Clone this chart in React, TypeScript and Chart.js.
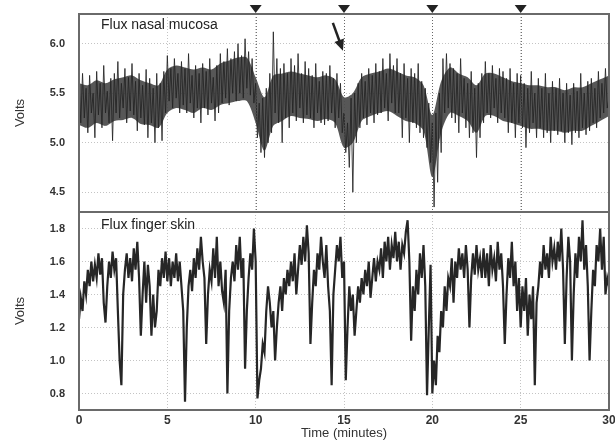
import { useEffect, useRef } from 'react';
import { Chart, registerables } from 'chart.js';

Chart.register(...registerables);

// sampling interval of the hand-read traces (minutes per sample)
const TIME_STEP_MIN = 0.1;
// sampling interval of the dense core band of the nasal trace
const CORE_STEP_MIN = 0.5;

// Flux nasal mucosa (Volts), one row per minute
const nasalFlux = [
  5.62, 5.2, 5.7, 5.25, 5.55, 5.1, 5.68, 5.3, 5.5, 5.05,
  5.72, 5.28, 5.6, 5.15, 5.78, 5.3, 5.52, 5.2, 5.65, 5.02,
  5.7, 5.3, 5.82, 5.25, 5.6, 5.35, 5.75, 5.2, 5.66, 5.32,
  5.8, 5.28, 5.62, 5.12, 5.7, 5.25, 5.58, 5.18, 5.74, 5.05,
  5.65, 5.2, 5.55, 5.0, 5.7, 5.15, 5.6, 5.02, 5.72, 5.3,
  5.88, 5.42, 5.75, 5.35, 5.85, 5.45, 5.7, 5.3, 5.82, 5.38,
  5.75, 5.3, 5.9, 5.4, 5.68, 5.25, 5.78, 5.35, 5.7, 5.2,
  5.8, 5.35, 5.72, 5.28, 5.85, 5.4, 5.66, 5.22, 5.78, 5.3,
  5.9, 5.4, 5.82, 5.45, 5.95, 5.38, 5.85, 5.5, 5.92, 5.42,
  6.0, 5.5, 5.88, 5.45, 6.05, 5.55, 5.92, 5.48, 5.85, 5.4,
  5.6, 5.05, 5.4, 4.9, 5.45, 4.85, 5.55, 5.0, 5.7, 5.1,
  6.12, 5.3, 5.85, 5.2, 5.75, 5.0, 5.8, 5.25, 5.7, 5.15,
  5.85, 5.3, 5.78, 5.22, 5.9, 5.35, 5.7, 5.2, 5.82, 5.28,
  5.75, 5.25, 5.68, 5.15, 5.8, 5.3, 5.62, 5.2, 5.72, 5.18,
  5.7, 5.22, 5.78, 5.3, 5.65, 5.15, 5.7, 5.25, 5.6, 5.1,
  5.3, 4.9, 5.2, 4.75, 5.45, 4.5, 5.5, 5.0, 5.6, 5.15,
  5.7, 5.25, 5.62, 5.18, 5.75, 5.3, 5.68, 5.2, 5.8, 5.28,
  5.72, 5.3, 5.85, 5.35, 5.7, 5.22, 5.9, 5.4, 5.78, 5.3,
  5.85, 5.3, 5.7, 5.05, 5.8, 5.25, 5.65, 5.0, 5.75, 5.2,
  5.7, 5.15, 5.8, 5.1, 5.62, 5.05, 5.55, 4.95, 5.4, 4.8,
  5.2, 4.35, 5.3, 4.6, 5.5, 4.9, 5.85, 5.3, 5.9, 5.35,
  5.8, 5.25, 5.75, 5.2, 5.7, 5.1, 5.85, 5.3, 5.65, 5.15,
  5.6, 5.05, 5.72, 5.1, 5.55, 4.85, 5.6, 5.05, 5.7, 5.2,
  5.82, 5.3, 5.7, 5.25, 5.78, 5.35, 5.65, 5.2, 5.75, 5.3,
  5.72, 5.25, 5.65, 5.1, 5.75, 5.2, 5.6, 5.05, 5.7, 5.2,
  5.68, 5.15, 5.6, 4.95, 5.55, 5.1, 5.72, 5.2, 5.5, 5.05,
  5.65, 5.15, 5.55, 5.05, 5.7, 5.1, 5.5, 5.0, 5.62, 5.12,
  5.55, 5.08, 5.65, 5.12, 5.5, 5.0, 5.6, 5.1, 5.48, 4.98,
  5.6, 5.1, 5.52, 5.05, 5.7, 5.15, 5.5, 5.08, 5.62, 5.12,
  5.65, 5.2, 5.55, 5.15, 5.72, 5.25, 5.6, 5.3, 5.75, 5.35,
  5.45,
];

// dense dark core of the nasal trace, lower / upper edge (Volts), every 0.5 min
const nasalCoreLow = [
  5.18, 5.15, 5.2, 5.17, 5.22, 5.23, 5.25, 5.19, 5.18, 5.15,
  5.3, 5.35, 5.33, 5.3, 5.35, 5.33, 5.38, 5.4, 5.42, 5.42,
  5.2, 4.92, 5.17, 5.22, 5.27, 5.25, 5.24, 5.22, 5.24, 5.2,
  4.95, 5.0, 5.22, 5.27, 5.3, 5.32, 5.27, 5.22, 5.2, 5.12,
  4.65, 5.1, 5.3, 5.27, 5.22, 5.1, 5.27, 5.27, 5.22, 5.2,
  5.17, 5.14, 5.14, 5.12, 5.12, 5.1, 5.12, 5.12, 5.17, 5.22,
  5.27,
];
const nasalCoreHigh = [
  5.6, 5.58, 5.63, 5.6, 5.64, 5.66, 5.68, 5.63, 5.6, 5.58,
  5.74, 5.78, 5.76, 5.74, 5.76, 5.74, 5.8, 5.83, 5.86, 5.86,
  5.66, 5.46, 5.68, 5.7, 5.72, 5.7, 5.68, 5.66, 5.68, 5.64,
  5.46, 5.5, 5.66, 5.7, 5.72, 5.75, 5.72, 5.68, 5.66, 5.58,
  5.28, 5.62, 5.76, 5.7, 5.66, 5.58, 5.7, 5.7, 5.66, 5.62,
  5.6, 5.58, 5.58, 5.56, 5.56, 5.53, 5.56, 5.56, 5.6, 5.64,
  5.68,
];

// Flux finger skin (Volts), one row per minute
const fingerFlux = [
  1.25, 1.38, 1.3, 1.48, 1.4, 1.55, 1.45, 1.6, 1.48, 1.58,
  1.5, 1.65, 1.52, 1.62, 1.35, 1.23, 1.45, 1.6, 1.5, 1.66,
  1.55, 1.62, 1.3, 1.0, 0.85, 1.4, 1.55, 1.65, 1.5, 1.62,
  1.48, 1.68, 1.55, 1.72, 1.5, 1.15, 1.4, 1.6, 1.35, 1.58,
  1.45, 1.15, 1.4, 1.2, 1.3, 1.55, 1.45, 1.62, 1.5, 1.66,
  1.48, 1.62, 1.45, 1.6, 1.5, 1.65, 1.48, 1.6, 1.45, 1.3,
  0.75, 1.2, 1.45, 1.55, 1.42, 1.62, 1.5, 1.68, 1.55, 1.75,
  1.6, 1.5, 1.1, 1.4, 1.55, 1.48, 1.68, 1.5, 1.75, 1.45,
  1.6, 1.42, 1.35, 1.55, 0.8, 1.3, 1.5, 1.6, 1.48, 1.7,
  1.55, 1.75, 1.5, 1.62, 0.95, 1.3, 1.5, 1.65, 1.55, 1.8,
  1.6, 0.77, 0.88, 0.95, 1.1, 1.05, 1.3, 1.45, 1.35, 1.2,
  1.3, 1.0, 1.2, 1.35, 1.45, 1.3, 1.5, 1.4, 1.55, 1.45,
  1.6, 1.48, 1.65, 1.4, 1.55, 1.7, 1.58, 1.75, 1.6, 1.82,
  1.65, 1.1, 1.35, 1.55, 1.45, 1.65, 1.55, 1.75, 1.6, 1.5,
  1.7, 1.45, 1.3, 0.85, 1.4, 1.55, 1.7, 1.6, 1.75, 1.5,
  1.6, 0.88, 1.2, 1.45, 1.3, 1.4, 1.15, 1.3, 1.45, 1.35,
  1.5, 1.4, 1.55, 1.45, 1.6, 1.38, 1.5, 1.62, 1.48, 1.6,
  1.55, 1.68, 1.5, 1.72, 1.6, 1.75, 1.55, 1.7, 1.62, 1.78,
  1.6, 1.72, 1.55, 1.7, 1.65, 1.78, 1.85, 1.6, 1.12, 1.45,
  1.3, 1.55, 1.4, 1.65, 1.5, 1.7, 1.45, 0.79, 1.2, 1.58,
  0.8, 1.0, 0.85, 1.15, 1.05, 1.3, 1.2, 1.45, 1.3, 1.5,
  1.45, 1.62, 1.35, 1.6, 1.5, 1.68, 1.55, 1.65, 1.5, 1.7,
  1.55, 1.2, 1.5, 1.65, 1.52, 1.7, 1.55, 1.62, 1.5, 1.68,
  1.5, 1.65, 1.45, 1.7, 1.55, 1.62, 1.48, 1.72, 1.55, 1.65,
  1.45, 1.1, 1.4, 1.62, 1.5, 1.72, 1.45, 1.6, 1.3, 1.5,
  1.2, 1.45, 1.3, 1.5, 1.15, 1.4, 1.25, 1.45, 0.85, 1.35,
  1.45, 1.6, 1.5, 1.7, 1.55, 1.65, 1.5, 1.75, 1.6, 1.68,
  1.55, 1.72, 1.6, 1.8, 1.55, 1.1, 1.5, 1.75, 1.6, 1.0,
  1.4, 1.65, 1.5, 1.75, 1.6, 1.85, 1.55, 1.7, 1.45, 1.0,
  1.3, 1.55, 1.45, 1.7, 1.6, 1.8, 1.55, 1.75, 1.4, 1.5,
  1.45,
];

const timeTicks = [0, 5, 10, 15, 20, 25, 30];
const nasalTicks = [4.5, 5.0, 5.5, 6.0];
const fingerTicks = [0.8, 1.0, 1.2, 1.4, 1.6, 1.8];
const nasalRange = [4.3, 6.3];
const fingerRange = [0.7, 1.9];
const markerTimes = [10, 15, 20, 25];
// arrow annotation (time, volts) tail -> head
const arrowTail = [14.37, 6.21];
const arrowHead = [14.94, 5.93];

const panelTitles = ['Flux nasal mucosa', 'Flux finger skin'];

const toPoints = (arr: number[], step: number) => arr.map((v, i) => ({ x: i * step, y: v }));

const overlay = {
  id: 'overlay',
  afterDatasetsDraw(chart: any) {
    const { ctx, chartArea, scales } = chart;
    const x = scales.x;
    const yT = scales.yNasal;
    const yB = scales.yFinger;
    ctx.save();
    // darker dotted event lines in upper panel
    ctx.strokeStyle = 'rgba(80,80,80,0.8)';
    ctx.lineWidth = 1;
    ctx.setLineDash([1, 2]);
    markerTimes.forEach((t) => {
      const px = Math.round(x.getPixelForValue(t)) + 0.5;
      ctx.beginPath();
      ctx.moveTo(px, yT.top);
      ctx.lineTo(px, yT.bottom);
      ctx.stroke();
    });
    ctx.setLineDash([]);
    // panel frames
    ctx.strokeStyle = '#6a6a6a';
    ctx.lineWidth = 2;
    const w = chartArea.right - chartArea.left;
    ctx.strokeRect(chartArea.left, yT.top, w, yT.bottom - yT.top);
    ctx.strokeRect(chartArea.left, yB.top, w, yB.bottom - yB.top);
    // event markers
    ctx.fillStyle = '#222';
    markerTimes.forEach((t) => {
      const px = x.getPixelForValue(t);
      ctx.beginPath();
      ctx.moveTo(px - 6, yT.top - 9);
      ctx.lineTo(px + 6, yT.top - 9);
      ctx.lineTo(px, yT.top - 1);
      ctx.closePath();
      ctx.fill();
    });
    // arrow
    const ax0 = x.getPixelForValue(arrowTail[0]);
    const ay0 = yT.getPixelForValue(arrowTail[1]);
    const ax1 = x.getPixelForValue(arrowHead[0]);
    const ay1 = yT.getPixelForValue(arrowHead[1]);
    const ang = Math.atan2(ay1 - ay0, ax1 - ax0);
    ctx.strokeStyle = '#222';
    ctx.lineWidth = 2.5;
    ctx.beginPath();
    ctx.moveTo(ax0, ay0);
    ctx.lineTo(ax1 - 6 * Math.cos(ang), ay1 - 6 * Math.sin(ang));
    ctx.stroke();
    ctx.beginPath();
    ctx.moveTo(ax1, ay1);
    ctx.lineTo(ax1 - 11 * Math.cos(ang) + 5 * Math.sin(ang), ay1 - 11 * Math.sin(ang) - 5 * Math.cos(ang));
    ctx.lineTo(ax1 - 11 * Math.cos(ang) - 5 * Math.sin(ang), ay1 - 11 * Math.sin(ang) + 5 * Math.cos(ang));
    ctx.closePath();
    ctx.fill();
    // panel titles
    ctx.fillStyle = '#222';
    ctx.font = '14px "Liberation Sans", Arial, sans-serif';
    ctx.textBaseline = 'alphabetic';
    ctx.textAlign = 'left';
    ctx.fillText(panelTitles[0], chartArea.left + 22, yT.top + 15);
    ctx.fillText(panelTitles[1], chartArea.left + 22, yB.top + 17);
    ctx.restore();
  },
};

const zeroPad = (s: any) => {
  s.paddingTop = 0;
  s.paddingBottom = 0;
  s.paddingLeft = 0;
  s.paddingRight = 0;
};

export default function App() {
  const ref = useRef<HTMLCanvasElement | null>(null);
  useEffect(() => {
    if (!ref.current) return;
    const tickFont = { family: '"Liberation Sans", Arial, sans-serif', size: 11, weight: 'bold' as const };
    const titleFont = { family: '"Liberation Sans", Arial, sans-serif', size: 13 };
    const gridCfg = { color: '#c4c4c4', drawTicks: false, lineWidth: 1 };
    const yCommon = (ticks: number[], range: number[]) => ({
      type: 'linear' as const,
      position: 'left' as const,
      stack: 'panels',
      stackWeight: 1,
      min: range[0],
      max: range[1],
      afterBuildTicks: (s: any) => {
        s.ticks = ticks.map((v) => ({ value: v }));
      },
      afterFit: (s: any) => {
        s.width = 79;
        zeroPad(s);
      },
      grid: gridCfg,
      border: { display: false, dash: [1, 2] },
      ticks: {
        color: '#333',
        font: tickFont,
        padding: 14,
        callback: (v: any) => Number(v).toFixed(1),
      },
      title: { display: true, text: 'Volts', color: '#333', font: titleFont, padding: { top: 13, bottom: 0 } },
    });
    const chart = new Chart(ref.current, {
      type: 'line',
      data: {
        datasets: [
          {
            label: panelTitles[0],
            data: toPoints(nasalFlux, TIME_STEP_MIN),
            yAxisID: 'yNasal',
            borderColor: 'rgba(35,35,35,0.85)',
            borderWidth: 1,
            pointRadius: 0,
            tension: 0,
            order: 0,
          },
          {
            label: 'core low',
            data: toPoints(nasalCoreLow, CORE_STEP_MIN),
            yAxisID: 'yNasal',
            borderWidth: 0,
            borderColor: 'rgba(0,0,0,0)',
            pointRadius: 0,
            tension: 0.3,
            fill: false,
            order: 2,
          },
          {
            label: 'core high',
            data: toPoints(nasalCoreHigh, CORE_STEP_MIN),
            yAxisID: 'yNasal',
            borderWidth: 0,
            borderColor: 'rgba(0,0,0,0)',
            backgroundColor: 'rgba(55,55,55,0.84)',
            pointRadius: 0,
            tension: 0.3,
            fill: '-1',
            order: 1,
          },
          {
            label: panelTitles[1],
            data: toPoints(fingerFlux, TIME_STEP_MIN),
            yAxisID: 'yFinger',
            borderColor: '#262626',
            borderWidth: 2.2,
            pointRadius: 0,
            tension: 0,
            order: 0,
          },
        ],
      },
      options: {
        responsive: false,
        animation: false,
        layout: { padding: { left: 0, right: 6, top: 14, bottom: 0 } },
        plugins: { legend: { display: false }, tooltip: { enabled: false } },
        scales: {
          x: {
            type: 'linear',
            min: 0,
            max: 30,
            afterBuildTicks: (s: any) => {
              s.ticks = timeTicks.map((v) => ({ value: v }));
            },
            afterFit: (s: any) => {
              s.height = 31;
              zeroPad(s);
            },
            grid: gridCfg,
            border: { display: false, dash: [1, 2] },
            ticks: { color: '#333', font: { ...tickFont, size: 12 }, padding: 3, maxRotation: 0 },
            title: { display: true, text: 'Time (minutes)', color: '#333', font: titleFont, padding: 0 },
          },
          yFinger: yCommon(fingerTicks, fingerRange),
          yNasal: yCommon(nasalTicks, nasalRange),
        },
      },
      plugins: [overlay],
    });
    return () => chart.destroy();
  }, []);
  return (
    <div style={{ position: 'fixed', left: 0, top: 0, width: 615, height: 441, background: '#fff' }}>
      <canvas ref={ref} width={615} height={441} />
    </div>
  );
}
